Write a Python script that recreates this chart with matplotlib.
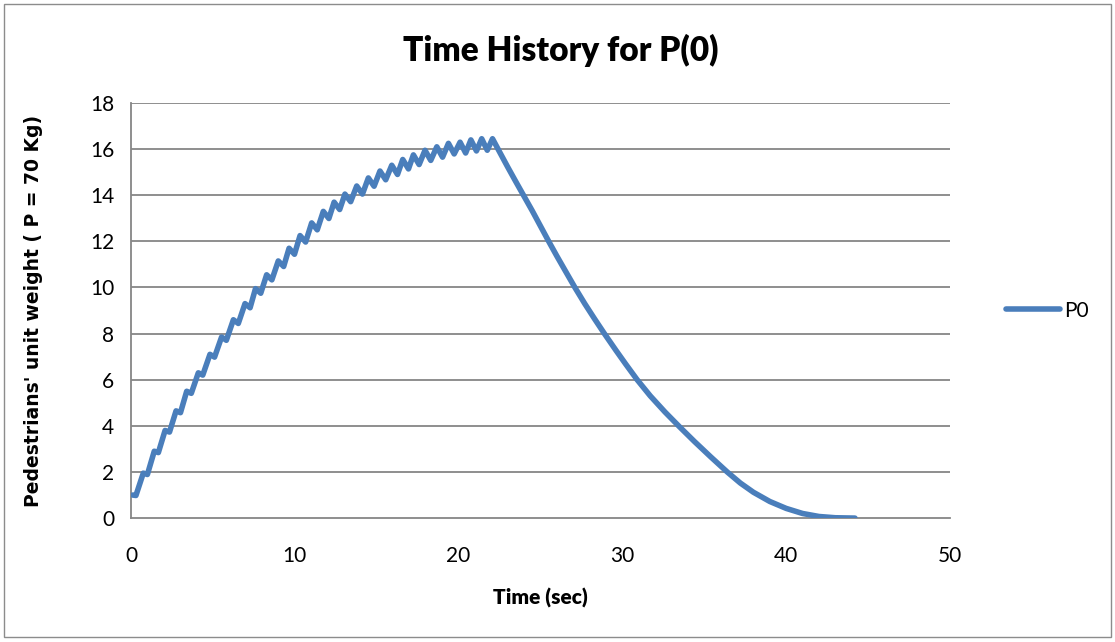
import matplotlib.pyplot as plt
from matplotlib.lines import Line2D
from matplotlib.patches import Rectangle

# rising part: peaks and troughs of the walking oscillation
start_t = [0.1, 0.3]
start_p = [1.0, 0.98]

peak_t = [0.75, 1.42, 2.08, 2.75, 3.40, 4.11, 4.82, 5.53, 6.25, 6.96, 7.60,
          8.28, 8.99, 9.65, 10.32, 11.03, 11.74, 12.40, 13.06, 13.78, 14.49,
          15.20, 15.92, 16.59, 17.24, 17.95, 18.67, 19.38, 20.09, 20.75, 21.41,
          22.07]
peak_p = [1.95, 2.90, 3.80, 4.65, 5.50, 6.30, 7.10, 7.85, 8.60, 9.30, 9.95,
          10.55, 11.15, 11.70, 12.25, 12.80, 13.30, 13.70, 14.05, 14.40, 14.75,
          15.05, 15.30, 15.55, 15.75, 15.95, 16.10, 16.25, 16.30, 16.40, 16.45,
          16.45]

trough_t = [1.00, 1.67, 2.35, 3.02, 3.68, 4.38, 5.10, 5.82, 6.55, 7.27, 7.92,
            8.60, 9.32, 9.98, 10.66, 11.37, 12.08, 12.74, 13.41, 14.13, 14.84,
            15.55, 16.27, 16.94, 17.59, 18.30, 19.02, 19.73, 20.43, 21.09,
            21.75]
trough_p = [1.89, 2.84, 3.73, 4.57, 5.41, 6.20, 6.98, 7.71, 8.44, 9.12, 9.75,
            10.33, 10.91, 11.44, 11.97, 12.50, 12.99, 13.38, 13.72, 14.05,
            14.39, 14.67, 14.90, 15.14, 15.33, 15.51, 15.65, 15.79, 15.83,
            15.92, 15.95]

# falling part after the last pedestrian has entered
fall_t = [22.5, 23.0, 23.5, 23.96, 24.5, 25.0, 25.5, 26.0, 26.5, 27.1, 27.7,
          28.3, 28.9, 29.6, 30.2, 30.9, 31.7, 32.6, 33.5, 34.4, 35.4, 36.4,
          37.2, 38.0, 39.0, 40.0, 41.0, 42.0, 43.0, 44.2]
fall_p = [15.88, 15.22, 14.58, 14.0, 13.32, 12.66, 12.0, 11.36, 10.74, 10.0, 9.3,
          8.64, 8.0, 7.28, 6.68, 6.0, 5.3, 4.6, 3.95, 3.32, 2.65, 2.0,
          1.52, 1.12, 0.72, 0.42, 0.2, 0.07, 0.015, 0.0]

time = list(start_t)
p0 = list(start_p)
for i in range(len(peak_t)):
    time.append(peak_t[i])
    p0.append(peak_p[i])
    if i < len(trough_t):
        time.append(trough_t[i])
        p0.append(trough_p[i])
time += fall_t
p0 += fall_p

x_ticks = [0, 10, 20, 30, 40, 50]
y_ticks = [0, 2, 4, 6, 8, 10, 12, 14, 16, 18]

LINE = "#4A7EBB"
GRID = "#868686"
FONT = ["Lato", "DejaVu Sans"]

fig = plt.figure(figsize=(11.15, 6.42), dpi=100)
fig.patches.append(Rectangle((0.004, 0.008), 0.992, 0.985, transform=fig.transFigure,
                             fill=False, edgecolor="#8c8c8c", linewidth=1.0))
ax = fig.add_axes([0.1175, 0.193, 0.7345, 0.6466])

ax.plot(time, p0, color=LINE, linewidth=4.0, solid_joinstyle="round",
        solid_capstyle="round", zorder=3)

ax.set_xlim(0, 50)
ax.set_ylim(0, 18)
ax.set_xticks(x_ticks)
ax.set_yticks(y_ticks)
for y in y_ticks[1:]:
    ax.axhline(y, color=GRID, linewidth=1.3, zorder=1)

for side in ["top", "right"]:
    ax.spines[side].set_visible(False)
for side in ["left", "bottom"]:
    ax.spines[side].set_color(GRID)
    ax.spines[side].set_linewidth(1.3)
ax.tick_params(length=0, labelsize=15)
ax.tick_params(axis="y", pad=12)
ax.tick_params(axis="x", pad=20)
for lbl in ax.get_xticklabels() + ax.get_yticklabels():
    lbl.set_family(FONT)

fig.text(0.503, 0.922, "Time History for P(0)", fontsize=24, fontweight="heavy",
         family=FONT, ha="center", va="center")
ax.set_xlabel("Time (sec)", fontsize=15, fontweight="heavy", family=FONT, labelpad=16)
ax.set_ylabel("Pedestrians' unit weight ( P = 70 Kg)", fontsize=13.5,
              fontweight="bold", family=["DejaVu Sans"], labelpad=34)

handle = Line2D([], [], color=LINE, linewidth=4.0, solid_capstyle="round")
leg = ax.legend([handle], ["P0"], loc="center left", bbox_to_anchor=(1.045, 0.5),
                frameon=False, handlelength=2.6, handletextpad=0.2,
                prop={"family": FONT, "size": 15})

fig.savefig("out.png", dpi=100)
